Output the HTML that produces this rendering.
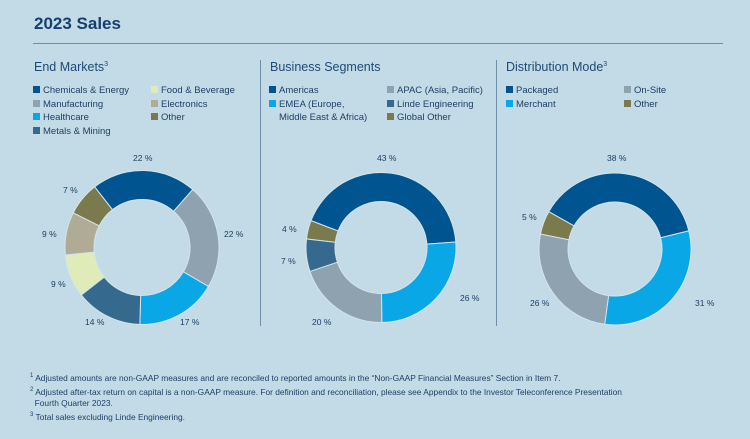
<!DOCTYPE html>
<html><head><meta charset="utf-8"><style>
body{margin:0;width:750px;height:439px;background:#c3dbe6;font-family:"Liberation Sans",sans-serif;color:#1d3f66;position:relative;overflow:hidden}
.a{position:absolute;white-space:nowrap}
h1{position:absolute;left:34px;top:14px;margin:0;font-size:17px;font-weight:bold;color:#163f6e}
.rule{position:absolute;left:33px;top:43px;width:690px;height:1px;background:#6f8fa8}
.vl{position:absolute;top:60px;width:1px;height:266px;background:#6f8fa8}
.t{font-size:12.5px;top:60px;color:#1d4a78}
.t sup{font-size:7px}
.lg{font-size:9.5px;color:#1d3f66;line-height:13.5px}
.sq{display:inline-block;width:7px;height:7px;margin-right:3px;vertical-align:0}
.p{font-size:8.5px;color:#1d3f66;position:absolute}
.fn{position:absolute;left:30px;top:371px;font-size:8.4px;line-height:11.8px;color:#1d3f66}
.fn sup{font-size:6px}
</style></head><body>
<h1>2023 Sales</h1><div class="rule"></div>
<div class="vl" style="left:260px"></div><div class="vl" style="left:496px"></div>
<div class="a t" style="left:34px">End Markets<sup>3</sup></div>
<div class="a t" style="left:270px">Business Segments</div>
<div class="a t" style="left:506px">Distribution Mode<sup>3</sup></div>
<div class="a lg" style="left:33px;top:84px"><span class="sq" style="background:#005591"></span>Chemicals &amp; Energy<br><span class="sq" style="background:#8fa2b0"></span>Manufacturing<br><span class="sq" style="background:#0aa7e6"></span>Healthcare<br><span class="sq" style="background:#356a8e"></span>Metals &amp; Mining</div>
<div class="a lg" style="left:151px;top:84px"><span class="sq" style="background:#e0ecb8"></span>Food &amp; Beverage<br><span class="sq" style="background:#b0ab95"></span>Electronics<br><span class="sq" style="background:#7a7a4c"></span>Other</div>
<div class="a lg" style="left:269px;top:84px"><span class="sq" style="background:#005591"></span>Americas<br><span class="sq" style="background:#0aa7e6"></span>EMEA (Europe,<br><span style="margin-left:10px">Middle East &amp; Africa)</span></div>
<div class="a lg" style="left:387px;top:84px"><span class="sq" style="background:#8fa2b0"></span>APAC (Asia, Pacific)<br><span class="sq" style="background:#356a8e"></span>Linde Engineering<br><span class="sq" style="background:#7a7a4c"></span>Global Other</div>
<div class="a lg" style="left:506px;top:84px"><span class="sq" style="background:#005591"></span>Packaged<br><span class="sq" style="background:#0aa7e6"></span>Merchant</div>
<div class="a lg" style="left:624px;top:84px"><span class="sq" style="background:#8fa2b0"></span>On-Site<br><span class="sq" style="background:#7a7a4c"></span>Other</div>
<svg id="s" class="a" style="left:0;top:0" width="750" height="439"></svg>
<div class="p" style="left:133px;top:153px">22 %</div>
<div class="p" style="left:224px;top:229px">22 %</div>
<div class="p" style="left:180px;top:317px">17 %</div>
<div class="p" style="left:85px;top:317px">14 %</div>
<div class="p" style="left:51px;top:279px">9 %</div>
<div class="p" style="left:42px;top:229px">9 %</div>
<div class="p" style="left:63px;top:185px">7 %</div>
<div class="p" style="left:377px;top:153px">43 %</div>
<div class="p" style="left:460px;top:293px">26 %</div>
<div class="p" style="left:312px;top:317px">20 %</div>
<div class="p" style="left:281px;top:256px">7 %</div>
<div class="p" style="left:282px;top:224px">4 %</div>
<div class="p" style="left:607px;top:153px">38 %</div>
<div class="p" style="left:695px;top:298px">31 %</div>
<div class="p" style="left:530px;top:298px">26 %</div>
<div class="p" style="left:522px;top:212px">5 %</div>
<div class="fn"><sup>1</sup> Adjusted amounts are non-GAAP measures and are reconciled to reported amounts in the “Non-GAAP Financial Measures” Section in Item 7.<br><sup>2</sup> Adjusted after-tax return on capital is a non-GAAP measure. For definition and reconciliation, please see Appendix to the Investor Teleconference Presentation<br>&nbsp;&nbsp;Fourth Quarter 2023.<br><sup>3</sup> Total sales excluding Linde Engineering.</div>
<script>
var s=document.getElementById('s'),h='';
function d(cx,cy,R,r,st,segs){var a=st;segs.forEach(function(g){var b=a+g[0]*3.6;
function p(rad,ang){var t=(ang-90)*Math.PI/180;return (cx+rad*Math.cos(t)).toFixed(2)+' '+(cy+rad*Math.sin(t)).toFixed(2);}
var L=(b-a)>180?1:0;
h+='<path d="M'+p(R,a)+' A'+R+' '+R+' 0 '+L+' 1 '+p(R,b)+' L'+p(r,b)+' A'+r+' '+r+' 0 '+L+' 0 '+p(r,a)+'Z" fill="'+g[1]+'" stroke="#d4e4ec" stroke-width="1"/>';a=b;});}
d(142,247.5,77,48,-38,[[22,'#005591'],[22,'#8fa2b0'],[17,'#0aa7e6'],[14,'#356a8e'],[9,'#e0ecb8'],[9,'#b0ab95'],[7,'#7a7a4c']]);
d(381,247.5,75,46,-69,[[43,'#005591'],[26,'#0aa7e6'],[20,'#8fa2b0'],[7,'#356a8e'],[4,'#7a7a4c']]);
d(615,249,76,47,-60.6,[[38,'#005591'],[31,'#0aa7e6'],[26,'#8fa2b0'],[5,'#7a7a4c']]);
s.innerHTML=h;
</script>
</body></html>
